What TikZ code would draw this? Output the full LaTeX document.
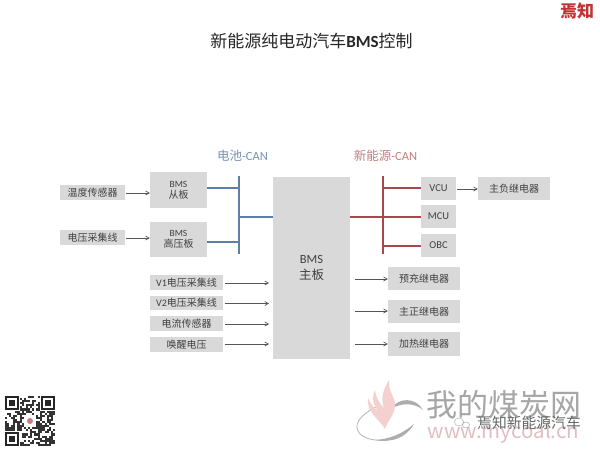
\documentclass[tikz,border=0pt]{standalone}
\usepackage{fontspec}
\setmainfont{Noto Sans CJK SC}
\newfontfamily\lat{Carlito}
\usetikzlibrary{arrows.meta}
\definecolor{boxgray}{HTML}{D9D9D9}
\definecolor{canblue}{HTML}{5F7FA8}
\definecolor{canred}{HTML}{A8484C}
\definecolor{txt}{HTML}{404040}
\definecolor{arrowc}{HTML}{555555}
\definecolor{flamepink}{HTML}{F4D0CE}
\tikzset{
  tb/.style={fill=boxgray,draw=none,inner sep=0pt,align=center,text=txt,font=\fontsize{10}{12}\selectfont},
  arr/.style={draw=arrowc,line width=0.7pt,-{Straight Barb[length=3.5pt,width=4pt]}},
  bluebus/.style={draw=canblue,line width=1.6pt},
  redbus/.style={draw=canred,line width=1.6pt},
  plain/.style={inner sep=0pt}
}
\newcommand{\bx}[6]{\node[tb,minimum width=#4pt-#3pt,minimum height=#6pt-#5pt,anchor=center] (#1) at ({(#3+#4)/2},{(#5+#6)/2}) {#2};}
\begin{document}
\begin{tikzpicture}[x=1pt,y=-1pt]
\useasboundingbox[fill=white] (0,0) rectangle (600,450);
% title
\node[plain,font=\fontsize{17}{19}\selectfont,text=black!85] (title) at (311.5,41) {新能源纯电动汽车{\lat\bfseries BMS}控制};
\node[plain,font=\fontsize{17}{18}\selectfont\bfseries,text=canred!70!red] (logo) at (577,11) {焉知};
% boxes
\bx{temp}{温度传感器}{60}{125}{185}{200}
\bx{volt}{电压采集线}{60}{125}{230}{245}
\bx{slave}{{\lat\fontsize{9.5}{11}\selectfont BMS}\\[-1pt]从板}{150}{207}{172}{208}
\bx{hv}{{\lat\fontsize{9.5}{11}\selectfont BMS}\\[-1pt]高压板}{150}{207}{222}{257}
\bx{main}{}{273}{350}{177}{359}
\node[plain,text=txt,align=center,font=\fontsize{12.5}{16}\selectfont] (mainlabel) at (311.5,268) {{\lat BMS}\\主板};
\bx{vone}{{\lat V1}电压采集线}{150}{223}{275}{290}
\bx{vtwo}{{\lat V2}电压采集线}{150}{223}{296}{310}
\bx{cur}{电流传感器}{150}{223}{316}{331}
\bx{wake}{唤醒电压}{150}{223}{337}{352}
\bx{vcu}{{\lat\fontsize{10.5}{12}\selectfont VCU}}{421}{456}{177}{200}
\bx{mcu}{{\lat\fontsize{10.5}{12}\selectfont MCU}}{421}{456}{205}{228}
\bx{obc}{{\lat\fontsize{10.5}{12}\selectfont OBC}}{421}{456}{234}{257}
\bx{neg}{主负继电器}{478}{550}{177}{200}
\bx{pre}{预充继电器}{388}{460}{267}{290}
\bx{pos}{主正继电器}{388}{460}{300}{323}
\bx{heat}{加热继电器}{388}{460}{332}{356}
% CAN labels
\node[plain,text=canblue!85!white,font=\fontsize{12.5}{14}\selectfont] (canb) at (242.5,156) {电池{\lat -CAN}};
\node[plain,text=canred!70!white,font=\fontsize{12.5}{14}\selectfont] (canr) at (385.5,156) {新能源{\lat -CAN}};
% blue bus
\coordinate (bt) at (239,176); \coordinate (bb) at (239,254); \coordinate (bm) at (239,217);
\draw[bluebus] (bt) -- (bb);
\draw[bluebus] (slave.east |- 0,188) -- (239,188);
\draw[bluebus] (hv.east |- 0,242) -- (239,242);
\draw[bluebus] (bm) -- (main.west |- bm);
% red bus
\coordinate (rt) at (383,176); \coordinate (rb) at (383,254); \coordinate (rm) at (383,217);
\draw[redbus] (rt) -- (rb);
\draw[redbus] (383,188) -- (vcu.west |- 0,188);
\draw[redbus] (main.east |- rm) -- (mcu.west |- rm);
\draw[redbus] (383,246) -- (obc.west |- 0,246);
% arrows
\draw[arr] (temp.east |- 0,193) ++(1,0) -- (slave.west |- 0,193);
\draw[arr] (volt.east |- 0,238) ++(1,0) -- (hv.west |- 0,238);
\draw[arr] (vcu.east |- 0,189) ++(1,0) -- (neg.west |- 0,189);
\draw[arr] (vone.east |- 0,283) ++(2,0) -- (269,283);
\draw[arr] (vtwo.east |- 0,303.5) ++(2,0) -- (269,303.5);
\draw[arr] (cur.east |- 0,324) ++(2,0) -- (269,324);
\draw[arr] (wake.east |- 0,344) ++(2,0) -- (269,344);
\draw[arr] (355,279) -- (pre.west |- 0,279);
\draw[arr] (355,311) -- (pos.west |- 0,311);
\draw[arr] (355,344) -- (heat.west |- 0,344);
% watermark
\node[plain,text=black!35,font=\fontsize{31}{32}\selectfont] (wm) at (503.5,405) {我的煤炭网};
\node[plain,text=canred!35!white,font=\fontsize{20.5}{22}\selectfont] (wmurl) at (503.5,433) {www.mycoal.cn};
\node[plain,text=black!60,font=\fontsize{14.8}{16}\selectfont] (wx) at (529,423) {焉知新能源汽车};
\draw[black!30,line width=0.5pt] (459,422) ellipse (4.5 and 4) (466,425) ellipse (3.5 and 3);
% ring
\fill[black!32] (391,409) .. controls (398,397) and (416,397) .. (423,410) .. controls (414,402) and (400,403) .. (391,409) -- cycle;
\draw[black!32,line width=0.7pt] (378,406) .. controls (365,412) and (353,422) .. (358,431) .. controls (362,439) and (375,441) .. (385,440);
\fill[black!32] (414,424) .. controls (406,438) and (392,443) .. (375,440) .. controls (390,439) and (402,434) .. (414,424) -- cycle;
% flame
\fill[flamepink] (385,429) .. controls (380,420) and (366,412) .. (368,398) .. controls (371,405) and (374,408) .. (378,411)
  .. controls (372,403) and (372,395) .. (375,390) .. controls (376,398) and (380,404) .. (384,408)
  .. controls (380,398) and (384,388) .. (389,380) .. controls (388,392) and (396,398) .. (395,406) .. controls (394,416) and (388,420) .. (385,429) -- cycle;
% QR
\fill[white] (5,396) rectangle (55,446);
\pgfmathsetseed{7}
\foreach \i in {0,...,23}{\foreach \j in {0,...,23}{
  \pgfmathsetmacro{\px}{5+\i*2.08}\pgfmathsetmacro{\py}{396+\j*2.08}
  \pgfmathparse{(\i<7&&\j<7)||(\i>16&&\j<7)||(\i<7&&\j>16)||(\i>8&&\i<15&&\j>8&&\j<15)||rnd>0.52?1:0}
  \ifnum\pgfmathresult=0 \fill[black!80] (\px,\py) rectangle +(2.08,2.08);\fi
}}
\foreach \cx/\cy in {5/396,41/396,5/432}{
  \draw[black!85,line width=1.6pt] (\cx+1,\cy+1) rectangle (\cx+13,\cy+13);
  \fill[black!85] (\cx+4,\cy+4) rectangle (\cx+10,\cy+10);
}
\fill[canred!70!white] (30,421) circle (3);
\end{tikzpicture}
\end{document}
